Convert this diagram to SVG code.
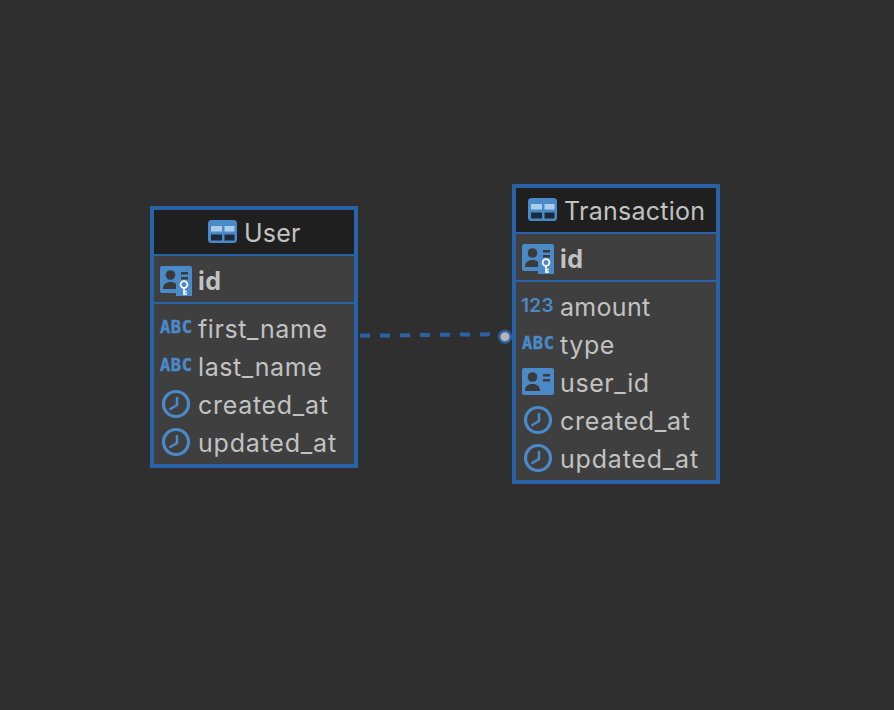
<svg xmlns="http://www.w3.org/2000/svg" width="894" height="710" viewBox="0 0 894 710">
<style>
.box{fill:#3f3f3f;stroke:#2a62a8;stroke-width:4}
.head{fill:#1f1f1f}
.sep{stroke:#2a62a8;stroke-width:2}
text{font-family:Inter,"Liberation Sans",sans-serif;fill:#c2c2c2;font-size:25px;letter-spacing:.6px}
.t{letter-spacing:.25px}
.u{letter-spacing:.8px}
.c{letter-spacing:.7px}
.a{letter-spacing:.3px}
.b{font-weight:700}
.abc{font-family:"DejaVu Sans Mono",monospace;font-weight:700;font-size:17px;fill:#4a8ac9;stroke:#4a8ac9;stroke-width:.5;letter-spacing:.6px}
.num{font-weight:600;font-size:19px;fill:#4a8ac9;letter-spacing:.3px}
.ic{fill:#4a8ac9}
</style>
<defs>
<g id="tbl"><rect x="0" y="0" width="29" height="23" rx="3.500" class="ic"/><rect x="3" y="6" width="11" height="5.500" fill="#a9cdea"/><rect x="16.500" y="6" width="10" height="5.500" fill="#a9cdea"/><rect x="3" y="14.500" width="11" height="6" fill="#1c2a3a"/><rect x="16.500" y="14.500" width="10" height="6" fill="#1c2a3a"/></g>
<g id="card"><rect x="0" y="0" width="32" height="27" rx="2" class="ic"/><circle cx="10.500" cy="9" r="4.800" fill="#3a3a3a"/><path d="M3 23c0-5 3-7 7.500-7s7.500 2 7.500 7z" fill="#3a3a3a"/><rect x="21" y="6" width="7" height="2.500" fill="#3a3a3a"/><rect x="21" y="11" width="7" height="2.500" fill="#3a3a3a"/></g>
<g id="key"><use href="#card"/><path d="M16 16h16v14H16z" fill="#4a8ac9"/><circle cx="24" cy="18.500" r="3.400" fill="#4a8ac9" stroke="#fff" stroke-width="1.800"/><path d="M24 22v7M24 25.500h3M24 28h3" stroke="#fff" stroke-width="1.600" fill="none"/></g>
<g id="clk"><circle cx="0" cy="0" r="12.500" fill="none" stroke="#4a8ac9" stroke-width="3.200"/><path d="M1 -7V1L-6.500 5.500" fill="none" stroke="#4a8ac9" stroke-width="2.500"/></g>
</defs>
<rect width="894" height="710" fill="#2f2f2f"/>
<g id="connectors">
<path d="M360 335.700L490 334.300" fill="none" stroke="#2a62a8" stroke-width="4" stroke-dasharray="10 10"/>
<circle cx="505" cy="336.700" r="5.800" fill="#b4b4b4" stroke="#2a62a8" stroke-width="2.500"/>
</g>
<g id="user">
<rect class="box" x="152" y="208" width="204" height="258"/>
<rect class="head" x="154" y="210" width="200" height="44"/>
<path class="sep" d="M154 255H354M154 303H354"/>
<use href="#tbl" x="208" y="220"/>
<text class="t" x="244" y="242">User</text>
<use href="#key" x="160" y="266"/>
<text class="b" x="198" y="290">id</text>
<text class="abc" x="160" y="333">ABC</text>
<text x="198" y="338">first_name</text>
<text class="abc" x="160" y="371">ABC</text>
<text x="198" y="376">last_name</text>
<use href="#clk" x="176" y="404"/>
<text class="c" x="198" y="414">created_at</text>
<use href="#clk" x="176" y="442"/>
<text class="u" x="198" y="452">updated_at</text>
</g>
<g id="transaction">
<rect class="box" x="514" y="186" width="204" height="296"/>
<rect class="head" x="516" y="188" width="200" height="44"/>
<path class="sep" d="M516 233H716M516 281H716"/>
<use href="#tbl" x="528" y="198"/>
<text class="t" x="564" y="220">Transaction</text>
<use href="#key" x="522" y="244"/>
<text class="b" x="560" y="268">id</text>
<text class="num" x="521" y="312">123</text>
<text class="a" x="560" y="316">amount</text>
<text class="abc" x="522" y="349">ABC</text>
<text x="560" y="354">type</text>
<use href="#card" x="522" y="368"/>
<text x="560" y="392">user_id</text>
<use href="#clk" x="538" y="420"/>
<text class="c" x="560" y="430">created_at</text>
<use href="#clk" x="538" y="458"/>
<text class="u" x="560" y="468">updated_at</text>
</g>
</svg>
